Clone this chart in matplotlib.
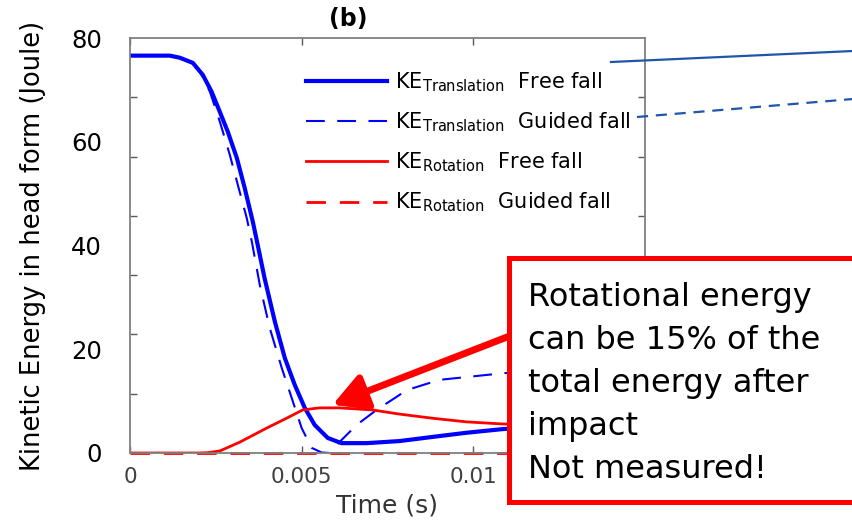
import matplotlib

matplotlib.use("Agg")
import matplotlib.pyplot as plt
from matplotlib.lines import Line2D
from matplotlib.patches import Rectangle
import numpy as np

plt.rcParams["font.family"] = ["DejaVu Sans"]
plt.rcParams["mathtext.fontset"] = "dejavusans"

# KE of the head form (J) against time (s)
t_trans_free = [0.0, 0.00116, 0.00145, 0.00183, 0.00212, 0.00238, 0.00262, 0.00285,
                0.00311, 0.00334, 0.00358, 0.00372, 0.00392, 0.00422, 0.00451,
                0.0048, 0.00509, 0.00538, 0.00576, 0.00616, 0.00689, 0.00785,
                0.00881, 0.0098, 0.01084, 0.013, 0.015]
ke_trans_free = [76.6, 76.6, 76.2, 75.2, 72.9, 69.6, 65.7, 61.9,
                 56.9, 51.1, 44.5, 40.1, 33.7, 25.3, 18.3,
                 13.1, 8.7, 5.4, 2.9, 1.9, 1.9, 2.3,
                 3.1, 3.9, 4.6, 5.5, 6.2]

t_trans_guided = [0.0, 0.00116, 0.00145, 0.00183, 0.00203, 0.00233, 0.00262, 0.00291,
                  0.00314, 0.0034, 0.00355, 0.00378, 0.00407, 0.00442, 0.00471,
                  0.005, 0.00529, 0.00558, 0.00581, 0.0061, 0.0066, 0.00718,
                  0.00776, 0.00805, 0.00901, 0.0109, 0.013, 0.015]
ke_trans_guided = [76.6, 76.6, 76.2, 75.2, 73.6, 69.6, 63.8, 57.4,
                   51.7, 45.3, 40.7, 32.4, 24.1, 16.4, 10.6,
                   4.8, 1.0, 0.1, 0.0, 2.1, 5.4, 8.3,
                   10.8, 12.1, 14.1, 15.4, 16.0, 16.3]

t_rot_free = [0.0, 0.002, 0.00224, 0.00262, 0.0032, 0.00398, 0.00456, 0.00503,
              0.00552, 0.0061, 0.00706, 0.00785, 0.00881, 0.0098, 0.01084,
              0.013, 0.015]
ke_rot_free = [0.0, 0.0, 0.05, 0.4, 2.1, 4.8, 6.7, 8.3,
               8.7, 8.7, 8.3, 7.5, 6.7, 6.0, 5.6,
               5.2, 5.0]

t_rot_guided = [0.0, 0.015]
ke_rot_guided = [0.0, 0.0]

x_ticks = [0, 0.005, 0.01]
x_ticklabels = ["0", "0.005", "0.01"]
y_ticks = [0, 20, 40, 60, 80]

BLUE = "#0000ff"
RED = "#ff0000"
NOTE_BLUE = "#1f56ab"

fig = plt.figure(figsize=(8.53, 5.2), dpi=100)
ax = fig.add_axes([130 / 853, 67 / 520, 515 / 853, 415 / 520])

ax.plot(t_trans_free, ke_trans_free, color=BLUE, lw=3.0,
        label=r"$\mathrm{KE}_{\mathrm{Translation}}$  Free fall")
ax.plot(t_trans_guided, ke_trans_guided, color=BLUE, lw=1.5, dashes=(9, 6),
        label=r"$\mathrm{KE}_{\mathrm{Translation}}$  Guided fall")
ax.plot(t_rot_free, ke_rot_free, color=RED, lw=2.0,
        label=r"$\mathrm{KE}_{\mathrm{Rotation}}$  Free fall")
ax.plot(t_rot_guided, ke_rot_guided, color=RED, lw=2.0, dashes=(7, 5), clip_on=False,
        label=r"$\mathrm{KE}_{\mathrm{Rotation}}$  Guided fall")

ax.set_xlim(0, 0.015)
ax.set_ylim(0, 80)
ax.set_xticks(x_ticks)
ax.set_xticklabels(x_ticklabels)
ax.set_yticks(y_ticks)
ax.set_yticks(np.linspace(0, 80, 8), minor=True)
ax.tick_params(axis="x", which="major", direction="in", length=5, width=1,
               top=True, color="0.35", labelsize=15.5, labelcolor="#404040", pad=10)
ax.tick_params(axis="y", which="major", length=0, labelsize=17.5, pad=20)
ax.tick_params(axis="y", which="minor", direction="in", length=5, width=1,
               right=True, color="0.35")
for side in ax.spines.values():
    side.set_color("0.5")
    side.set_linewidth(1.3)

ax.set_xlabel("Time (s)", fontsize=18, color="#333333", labelpad=5)
ax.set_ylabel("Kinetic Energy in head form (Joule)", fontsize=18.5, labelpad=18)
ax.text(0.423, 1.046, "(b)", transform=ax.transAxes, ha="center", va="center",
        fontsize=17, weight="bold")

ax.legend(loc="upper left", bbox_to_anchor=(306 / 853, 1 - 70 / 520),
          bbox_transform=fig.transFigure, frameon=False, fontsize=15,
          handlelength=3.9, handletextpad=0.35, labelspacing=0.8,
          borderpad=0, borderaxespad=0)

# slide overlays: pointer lines, arrow and call-out box
fig.add_artist(Line2D([611 / 853, 1.0], [1 - 62 / 520, 1 - 51 / 520],
                      transform=fig.transFigure, color=NOTE_BLUE, lw=1.6))
fig.add_artist(Line2D([637 / 853, 1.0], [1 - 117 / 520, 1 - 99 / 520],
                      transform=fig.transFigure, color=NOTE_BLUE, lw=1.6,
                      dashes=(5, 3.5)))

ax.annotate("", xy=(0.0059, 9.3), xycoords="data",
            xytext=(520 / 853, 1 - 332 / 520), textcoords="figure fraction",
            arrowprops=dict(arrowstyle="-|>,head_length=1.0,head_width=0.55",
                            color=RED, lw=5, shrinkA=0, shrinkB=0,
                            mutation_scale=20),
            annotation_clip=False, zorder=8)

fig.add_artist(Rectangle((509 / 853, 1 - 502 / 520), 0.5, 244 / 520,
                         transform=fig.transFigure, facecolor="white",
                         edgecolor=RED, lw=3.6, zorder=10))
fig.text(528 / 853, 1 - 282 / 520,
         "Rotational energy\ncan be 15% of the\ntotal energy after\nimpact\nNot measured!",
         ha="left", va="top", fontsize=23, linespacing=1.5, zorder=11)

fig.savefig("out.png", dpi=100)
